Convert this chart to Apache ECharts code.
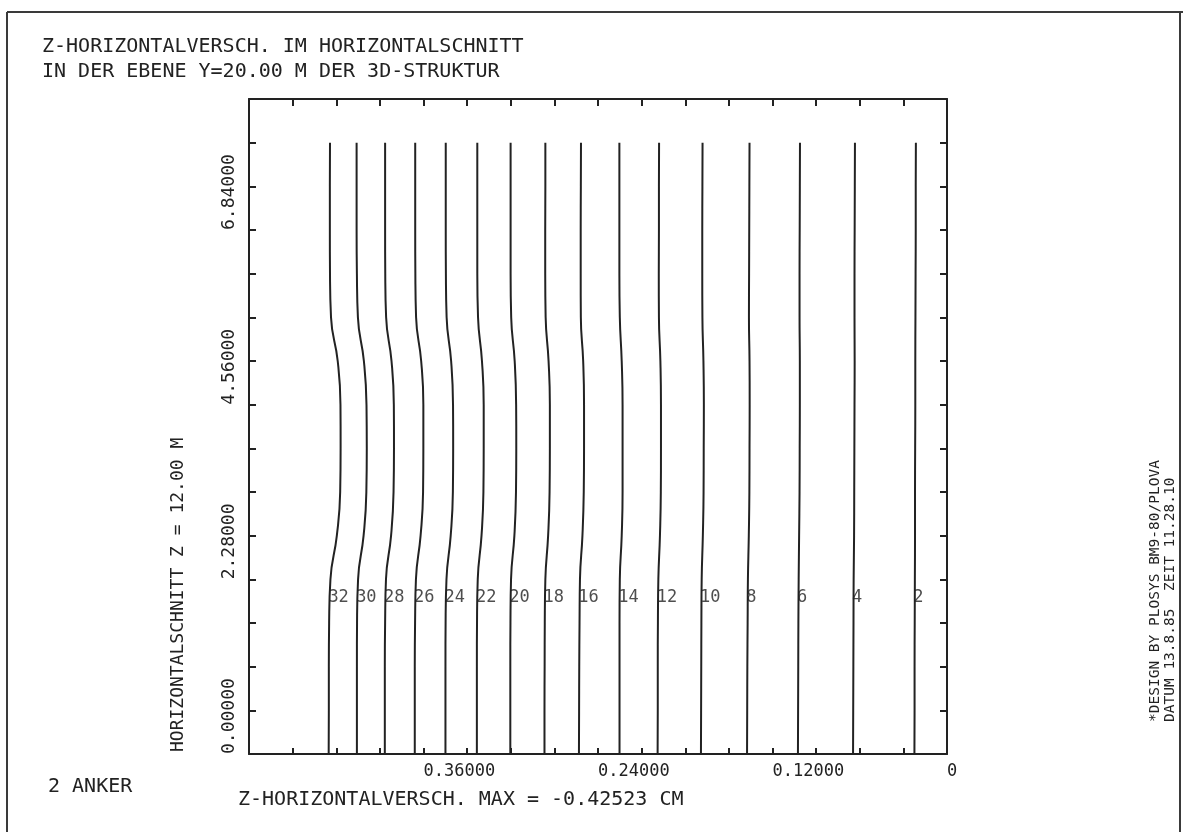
<!DOCTYPE html>
<html>
<head>
<meta charset="utf-8">
<script src="https://cdn.jsdelivr.net/npm/echarts@6/dist/echarts.min.js"></script>
<style>
html, body { margin: 0; padding: 0; background: #ffffff; }
#chart { width: 1183px; height: 832px; }
</style>
</head>
<body>
<div id="chart"></div>
<script>
// Heights (m) at which every contour line is sampled, bottom to top
const heights = [0, 0.57, 1.14, 1.71, 2.28, 2.85, 3.42, 3.99, 4.56, 5.13, 5.70, 6.27, 6.84, 7.41, 7.98];

// Numbers written next to the lines
const lineNumbers = ['32', '30', '28', '26', '24', '22', '20', '18', '16', '14', '12', '10', '8', '6', '4', '2'];

// Z-displacement (cm) along each line, bottom to top
const line32 = [0.4252, 0.4251, 0.4251, 0.4249, 0.4240, 0.4196, 0.4173, 0.4170, 0.4171, 0.4190, 0.4236, 0.4243, 0.4244, 0.4244, 0.4243];
const line30 = [0.4058, 0.4058, 0.4058, 0.4057, 0.4050, 0.4012, 0.3993, 0.3990, 0.3992, 0.4010, 0.4051, 0.4058, 0.4060, 0.4060, 0.4060];
const line28 = [0.3866, 0.3866, 0.3866, 0.3864, 0.3858, 0.3823, 0.3806, 0.3803, 0.3804, 0.3820, 0.3857, 0.3863, 0.3864, 0.3864, 0.3864];
const line26 = [0.3660, 0.3660, 0.3660, 0.3658, 0.3652, 0.3620, 0.3603, 0.3601, 0.3601, 0.3616, 0.3651, 0.3656, 0.3657, 0.3657, 0.3657];
const line24 = [0.3449, 0.3449, 0.3449, 0.3448, 0.3442, 0.3413, 0.3398, 0.3396, 0.3397, 0.3410, 0.3441, 0.3446, 0.3447, 0.3447, 0.3447];
const line22 = [0.3233, 0.3233, 0.3233, 0.3232, 0.3227, 0.3201, 0.3188, 0.3186, 0.3186, 0.3198, 0.3225, 0.3230, 0.3230, 0.3230, 0.3230];
const line20 = [0.3003, 0.3003, 0.3003, 0.3002, 0.2998, 0.2975, 0.2964, 0.2962, 0.2963, 0.2973, 0.2997, 0.3001, 0.3001, 0.3001, 0.3001];
const line18 = [0.2768, 0.2768, 0.2767, 0.2766, 0.2762, 0.2743, 0.2733, 0.2731, 0.2731, 0.2740, 0.2760, 0.2763, 0.2763, 0.2762, 0.2762];
const line16 = [0.2531, 0.2530, 0.2529, 0.2527, 0.2524, 0.2507, 0.2498, 0.2496, 0.2496, 0.2502, 0.2518, 0.2519, 0.2519, 0.2518, 0.2517];
const line14 = [0.2252, 0.2252, 0.2252, 0.2252, 0.2250, 0.2237, 0.2231, 0.2231, 0.2231, 0.2237, 0.2250, 0.2253, 0.2253, 0.2253, 0.2253];
const line12 = [0.1990, 0.1989, 0.1989, 0.1988, 0.1985, 0.1974, 0.1968, 0.1967, 0.1967, 0.1971, 0.1981, 0.1982, 0.1981, 0.1981, 0.1980];
const line10 = [0.1692, 0.1691, 0.1690, 0.1689, 0.1687, 0.1679, 0.1674, 0.1673, 0.1672, 0.1675, 0.1682, 0.1683, 0.1683, 0.1682, 0.1681];
const line8  = [0.1375, 0.1374, 0.1373, 0.1371, 0.1369, 0.1363, 0.1359, 0.1358, 0.1357, 0.1358, 0.1362, 0.1361, 0.1360, 0.1359, 0.1358];
const line6  = [0.1025, 0.1024, 0.1023, 0.1022, 0.1020, 0.1017, 0.1014, 0.1013, 0.1012, 0.1012, 0.1014, 0.1014, 0.1013, 0.1012, 0.1011];
const line4  = [0.0646, 0.0645, 0.0644, 0.0643, 0.0642, 0.0639, 0.0638, 0.0637, 0.0636, 0.0635, 0.0636, 0.0636, 0.0635, 0.0634, 0.0633];
const line2  = [0.0224, 0.0223, 0.0223, 0.0222, 0.0221, 0.0220, 0.0220, 0.0219, 0.0218, 0.0218, 0.0217, 0.0216, 0.0215, 0.0215, 0.0214];

const lineValues = [line32, line30, line28, line26, line24, line22, line20, line18,
                    line16, line14, line12, line10, line8, line6, line4, line2];

// Height (m) of the row of line numbers
const numberRowHeight = 2.04;

// Axis tick labels
const xTickValues = [0, 0.12, 0.24, 0.36];
const xTickLabels = ['0', '0.12000', '0.24000', '0.36000'];
const yTickValues = [0, 2.28, 4.56, 6.84];
const yTickLabels = ['0.00000', '2.28000', '4.56000', '6.84000'];

// Texts around the plot
const titleLines = ['Z-HORIZONTALVERSCH. IM HORIZONTALSCHNITT', 'IN DER EBENE Y=20.00 M DER 3D-STRUKTUR'];
const yAxisTitle = 'HORIZONTALSCHNITT Z = 12.00 M';
const xAxisTitle = 'Z-HORIZONTALVERSCH. MAX = -0.42523 CM';
const anchorNote = '2 ANKER';
const footerLines = ['*DESIGN BY PLOSYS BM9-80/PLOVA', 'DATUM 13.8.85  ZEIT 11.28.10'];

const INK = '#222222';
const FONT = '"DejaVu Sans Mono", "Liberation Mono", monospace';

function pickLabel(values, labels) {
  return function (v) {
    const i = values.findIndex(t => Math.abs(t - v) < 1e-6);
    return i >= 0 ? labels[i] : '';
  };
}

// Value of a line at a given height, read along its sampled points
function valueAt(vals, h) {
  for (let i = 0; i < heights.length - 1; i++) {
    if (h >= heights[i] && h <= heights[i + 1]) {
      const t = (h - heights[i]) / (heights[i + 1] - heights[i]);
      return vals[i] + t * (vals[i + 1] - vals[i]);
    }
  }
  return vals[vals.length - 1];
}

const frameAxisBase = {
  axisLine: { show: true, onZero: false, lineStyle: { color: INK, width: 2 } },
  axisTick: { show: true, inside: true, length: 7, lineStyle: { color: INK, width: 2 } },
  splitLine: { show: false }
};

const xRange = { type: 'value', min: 0, max: 0.48, interval: 0.03, inverse: true };
const yRange = { type: 'value', min: 0, max: 8.55, interval: 0.57 };

const lineSeries = lineValues.map((vals, k) => ({
  type: 'line',
  name: lineNumbers[k],
  xAxisIndex: 0,
  yAxisIndex: 0,
  data: vals.map((v, i) => [v, heights[i]]),
  symbol: 'none',
  smooth: 0.5,
  silent: true,
  lineStyle: { color: INK, width: 2 },
  z: 3
}));

const numberSeries = {
  type: 'scatter',
  xAxisIndex: 0,
  yAxisIndex: 0,
  symbolSize: 1,
  silent: true,
  itemStyle: { color: 'rgba(0,0,0,0)' },
  data: lineValues.map((vals, k) => ({
    name: lineNumbers[k],
    value: [valueAt(vals, numberRowHeight), numberRowHeight]
  })),
  label: {
    show: true,
    position: 'right',
    distance: -2,
    formatter: '{b}',
    color: INK,
    fontFamily: FONT,
    fontSize: 17
  },
  z: 4
};

function text(x, y, str, size, extra) {
  return Object.assign({
    type: 'text',
    x: x,
    y: y,
    silent: true,
    style: {
      text: str,
      fill: INK,
      font: size + 'px ' + FONT,
      align: 'left',
      verticalAlign: 'middle'
    }
  }, extra || {});
}

const option = {
  animation: false,
  backgroundColor: '#ffffff',
  grid: { left: 249, top: 99, width: 698, height: 655, containLabel: false },
  xAxis: [
    Object.assign({}, xRange, frameAxisBase, {
      position: 'bottom',
      axisTick: { show: true, inside: true, length: 6, lineStyle: { color: INK, width: 2 } },
      axisLabel: {
        show: true,
        margin: 9,
        align: 'left',
        verticalAlign: 'top',
        color: INK,
        fontFamily: FONT,
        fontSize: 17,
        formatter: pickLabel(xTickValues, xTickLabels)
      }
    }),
    Object.assign({}, xRange, frameAxisBase, {
      position: 'top',
      axisLabel: { show: false }
    })
  ],
  yAxis: [
    Object.assign({}, yRange, frameAxisBase, {
      position: 'left',
      axisLabel: {
        show: true,
        rotate: 90,
        margin: 20,
        align: 'left',
        verticalAlign: 'middle',
        color: INK,
        fontFamily: FONT,
        fontSize: 18,
        formatter: pickLabel(yTickValues, yTickLabels)
      }
    }),
    Object.assign({}, yRange, frameAxisBase, {
      position: 'right',
      axisLabel: { show: false }
    })
  ],
  series: lineSeries.concat([numberSeries]),
  graphic: [
    // sheet border
    { type: 'line', silent: true, shape: { x1: 7, y1: 12, x2: 1183, y2: 12 }, style: { stroke: '#3a3a3a', lineWidth: 2 } },
    { type: 'line', silent: true, shape: { x1: 7, y1: 12, x2: 7, y2: 832 }, style: { stroke: '#3a3a3a', lineWidth: 2 } },
    { type: 'line', silent: true, shape: { x1: 1180, y1: 12, x2: 1180, y2: 832 }, style: { stroke: '#3a3a3a', lineWidth: 2 } },
    text(42, 47, titleLines[0], 20),
    text(42, 72, titleLines[1], 20),
    text(178, 752, yAxisTitle, 18, { rotation: Math.PI / 2 }),
    text(238, 800, xAxisTitle, 20),
    text(48, 787, anchorNote, 20),
    text(1155, 722, footerLines[0], 14.5, { rotation: Math.PI / 2 }),
    text(1170, 722, footerLines[1], 14.5, { rotation: Math.PI / 2 })
  ]
};

const chart = echarts.init(document.getElementById('chart'), null, { renderer: 'canvas' });
chart.setOption(option);
</script>
</body>
</html>
